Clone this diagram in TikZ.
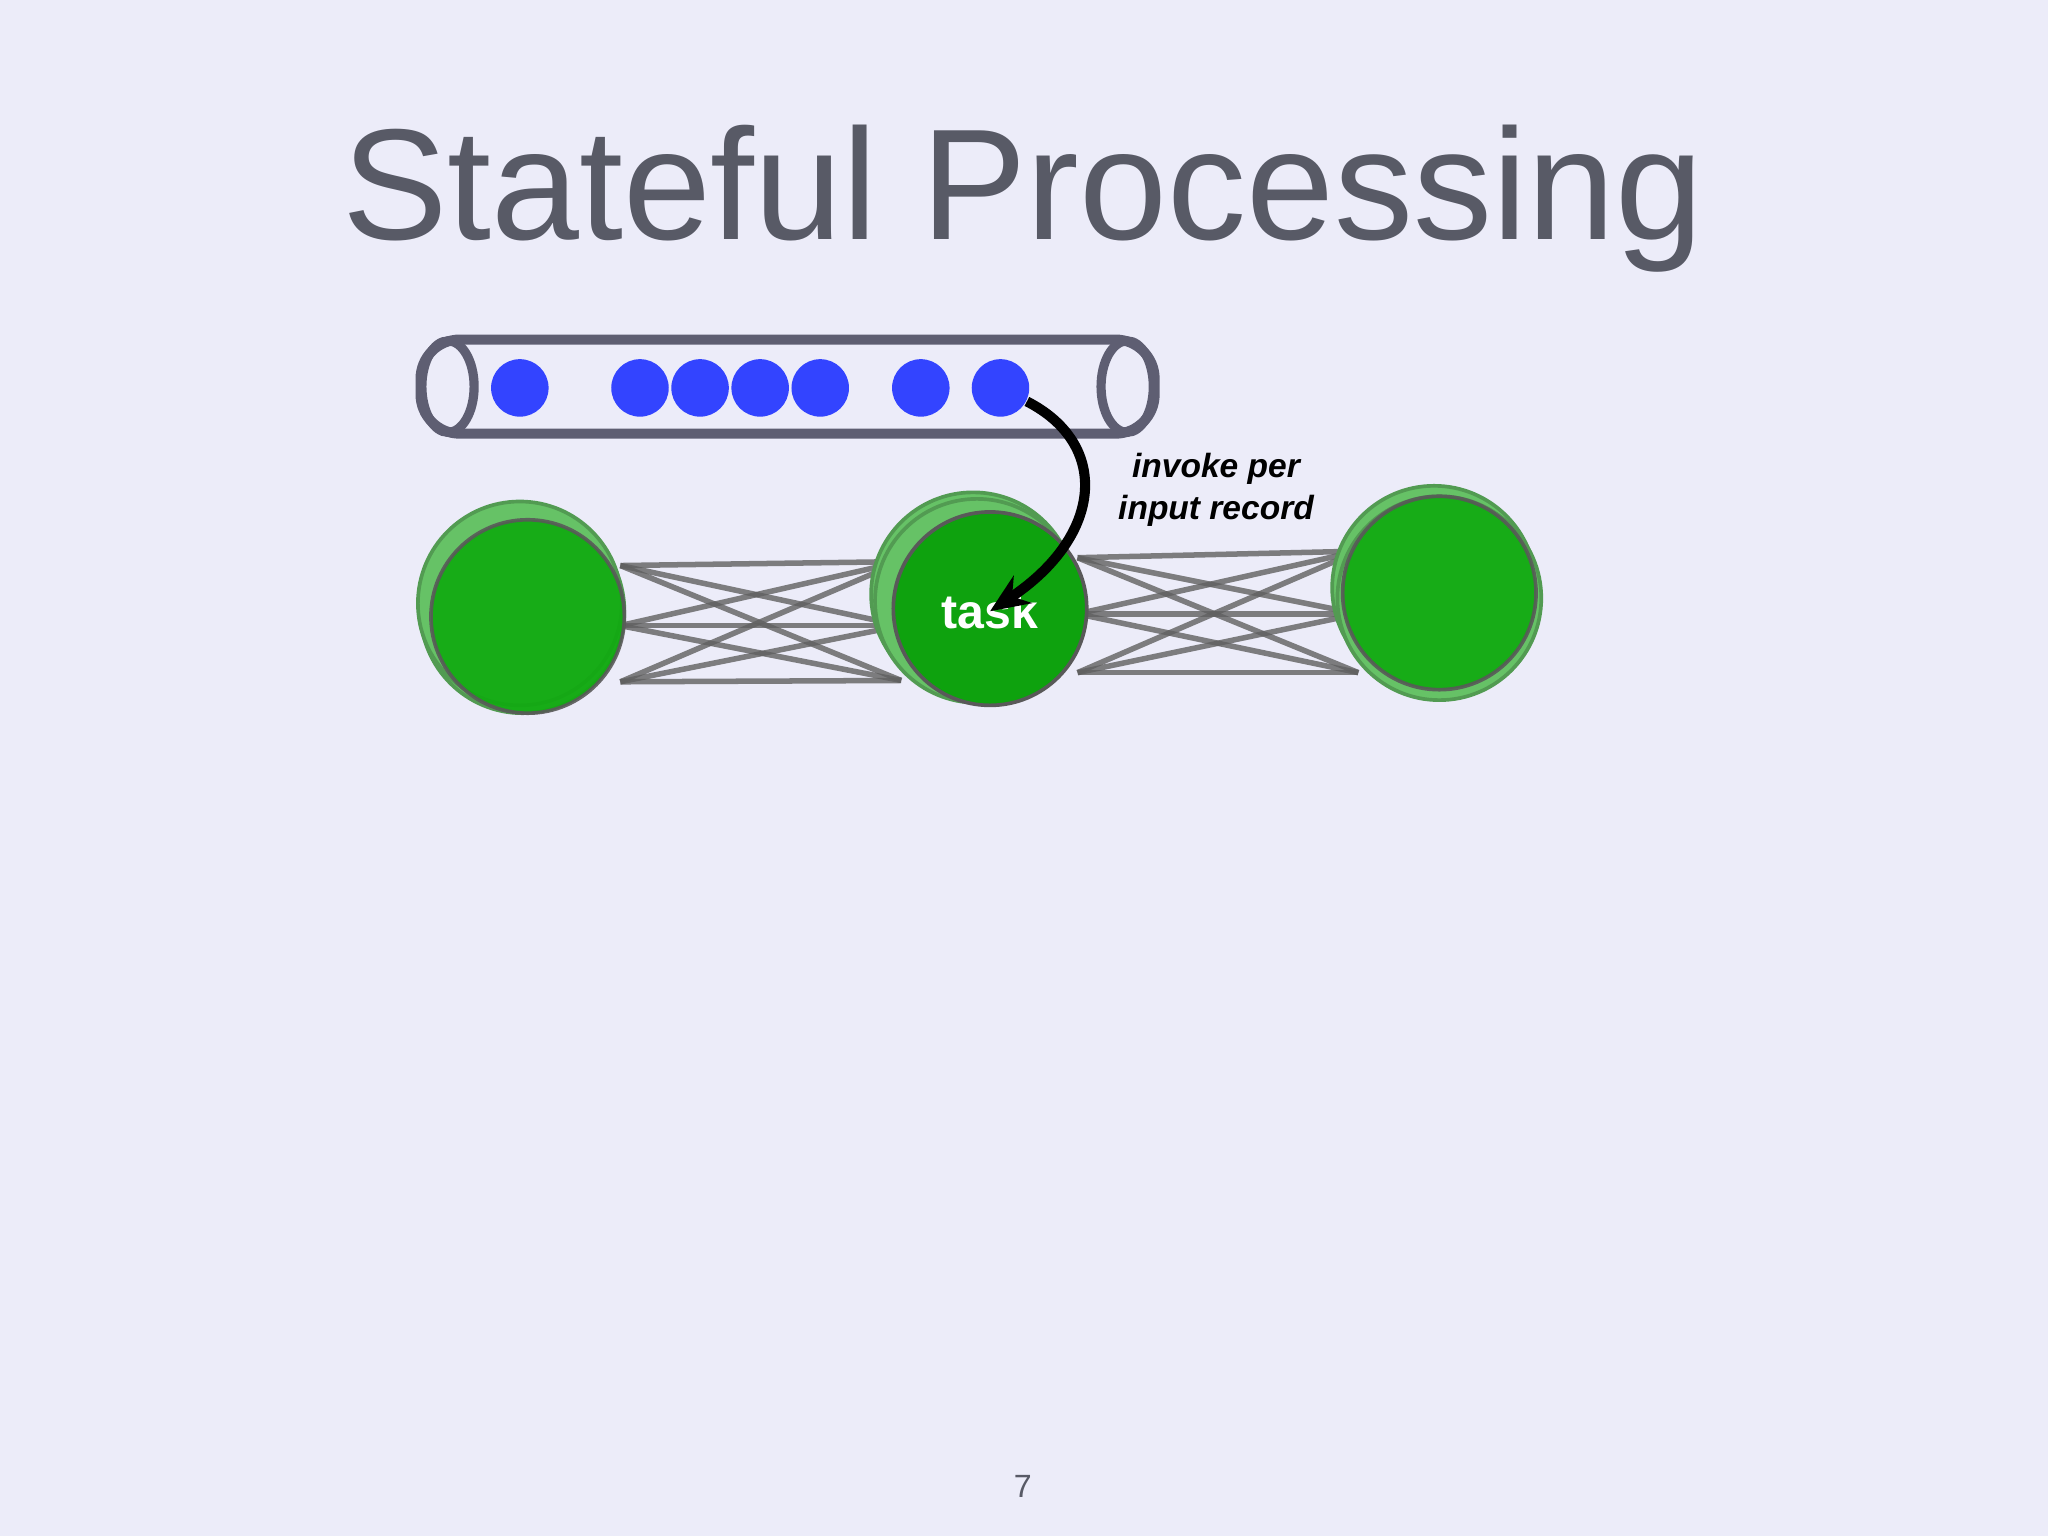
\documentclass[tikz,border=0pt]{standalone}
\usepackage{fontspec}
\usetikzlibrary{arrows.meta}
\setmainfont{Liberation Sans}
\definecolor{bg}{HTML}{ECECF9}
\definecolor{tgray}{HTML}{585A66}
\definecolor{dotblue}{HTML}{3344FF}
\definecolor{grn}{HTML}{0FAA0F}
\definecolor{lgrn}{HTML}{66C266}
\definecolor{pipe}{HTML}{5E5E72}
\begin{document}
\begin{tikzpicture}[x=0.01cm,y=-0.01cm,
  dot/.style={circle,fill=dotblue,minimum size=0.44cm,inner sep=0},
  gback/.style={circle,fill=lgrn,draw=lgrn!80!black,line width=0.8pt,minimum size=1.56cm,inner sep=0},
  gfront/.style={circle,fill=grn,draw=gray!70!black,line width=0.8pt,minimum size=1.48cm,inner sep=0,opacity=0.9},
  link/.style={draw=gray!75!black,line width=1.2pt,opacity=0.8}]
\fill[bg] (0,0) rectangle (1568,1176);
\node[text=tgray,font=\fontsize{34.4}{40}\selectfont] (title) at (783,152) {Stateful Processing};
% pipe
\draw[pipe,line width=2.2pt,rounded corners=0.3cm] (322,260) rectangle (884,332);
\draw[pipe,line width=2pt] (343,296) ellipse (20 and 35);
\draw[pipe,line width=2pt] (863,296) ellipse (20 and 35);
\foreach \x/\n in {398/d1,490/d2,536/d3,582/d4,628/d5,705/d6,766/d7}
  \node[dot] (\n) at (\x,297) {};
% links
\foreach \a in {433,479,522} \foreach \b in {430,479,521}
  \draw[link] (475,\a) -- (690,\b);
\foreach \a in {427,470,515} \foreach \b in {422,470,515}
  \draw[link] (825,\a) -- (1040,\b);
% circles
\node[gback] (lb) at (400,468) {};
\node[gback] (lb2) at (398,462) {};
\node[gfront] (l) at (404,472) {};
\node[gback] (mb) at (745,455) {};
\node[gback] (mb2) at (748,460) {};
\node[gfront,opacity=1,fill=grn!95!black] (task) at (758,466) {};
\node[text=white,font=\bfseries\fontsize{10.5}{12}\selectfont] (tasklbl) at (758,468) {task};
\node[gback] (rb) at (1098,450) {};
\node[gback] (rb2) at (1102,458) {};
\node[gfront] (r) at (1102,454) {};
% arrow
\draw[-{Stealth[length=0.3cm,width=0.25cm]},line width=2.2pt] (d7) .. controls (850,340) and (845,410) .. (tasklbl.center);
\node[font=\bfseries\itshape\fontsize{7.3}{9.3}\selectfont,align=center] (lbl) at (931,375) {invoke per\\input record};
\node[text=tgray,font=\fontsize{7}{8}\selectfont] (pg) at (783,1138) {7};
\end{tikzpicture}
\end{document}
